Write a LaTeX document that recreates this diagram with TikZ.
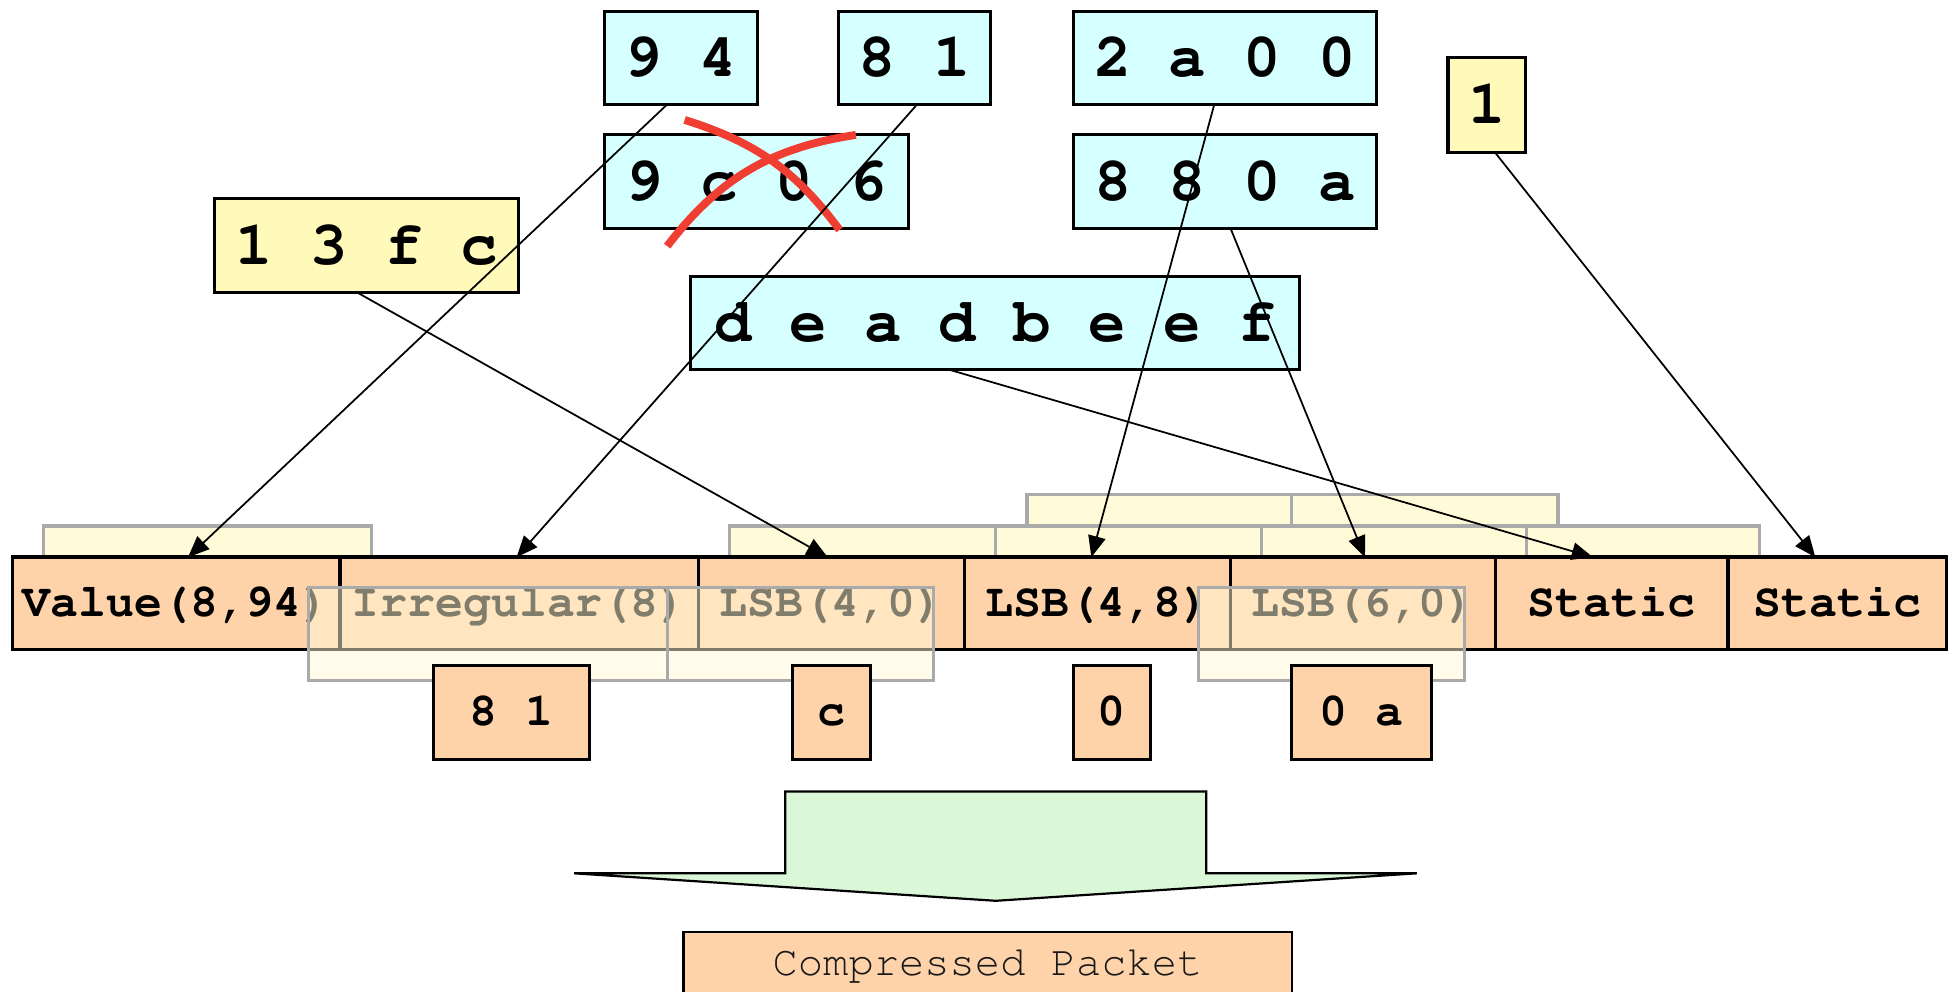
\documentclass[tikz,border=0pt]{standalone}
\usepackage[T1]{fontenc}
\usepackage{courier}
\usetikzlibrary{arrows.meta,positioning}
\definecolor{hellcyan}{RGB}{214,255,255}
\definecolor{sattgelb}{RGB}{255,250,185}
\definecolor{hellgelb}{RGB}{255,250,216}
\definecolor{pfirsich}{RGB}{255,211,170}
\definecolor{rahmengrau}{RGB}{170,170,170}
\definecolor{hellgruen}{RGB}{218,248,216}
\definecolor{kreuzrot}{RGB}{240,62,50}

\begin{document}
\begin{tikzpicture}[
    wort/.style={draw=black, line width=0.7pt, fill=hellcyan, inner sep=0pt, outer sep=0pt,
      minimum height=0.75cm, text height=8.5pt, text depth=0pt,
      font=\ttfamily\bfseries\fontsize{14.2}{17}\selectfont},
    feld/.style={draw=black, line width=0.8pt, fill=pfirsich, inner sep=0pt, outer sep=0pt,
      minimum height=0.74cm, text height=6pt, text depth=0pt,
      font=\ttfamily\bfseries\fontsize{10.6}{13}\selectfont},
    rest/.style={feld, line width=0.7pt, minimum height=0.75cm},
    schicht/.style={draw=rahmengrau, line width=0.7pt, fill=hellgelb},
    deckel/.style={draw=rahmengrau, line width=0.7pt, fill=hellgelb, fill opacity=0.5},
    pfeil/.style={line width=0.4pt, -{Triangle[length=1.7mm,width=1.4mm]}},
    kreuz/.style={draw=kreuzrot, line width=1.8pt}
  ]
    \useasboundingbox (0,0) rectangle (15.68,-7.94);

    % Schichten hinter dem Kontext
    \foreach \xa/\xb in {8.22/10.34, 10.34/12.47}
      \draw[schicht] (\xa,-3.96) rectangle (\xb,-4.70);
    \foreach \xa/\xb in {0.35/2.97, 5.84/7.97, 7.97/10.10, 10.10/12.22, 12.22/14.08}
      \draw[schicht] (\xa,-4.21) rectangle (\xb,-4.95);

    % Felder
    \node[feld, minimum width=2.62cm] (fValue) at (1.41,-4.83) {Value(8,94)};
    \node[feld, minimum width=2.87cm, right=0pt of fValue] (fIrr) {Irregular(8)};
    \node[feld, minimum width=2.13cm, right=0pt of fIrr] (fLsbA) {LSB(4,0)};
    \node[feld, minimum width=2.13cm, right=0pt of fLsbA] (fLsbB) {LSB(4,8)};
    \node[feld, minimum width=2.12cm, right=0pt of fLsbB] (fLsbC) {LSB(6,0)};
    \node[feld, minimum width=1.86cm, right=0pt of fLsbC] (fStatA) {Static};
    \node[feld, minimum width=1.75cm, right=0pt of fStatA] (fStatB) {Static};

    \foreach \xa/\xb in {2.47/5.34, 5.34/7.47, 9.59/11.72}
      \draw[deckel] (\xa,-4.70) rectangle (\xb,-5.45);

    % Reste
    \node[rest, minimum width=1.25cm] (r81) at (4.095,-5.705) {8 1};
    \node[rest, minimum width=0.63cm] (rc) at (6.655,-5.705) {c};
    \node[rest, minimum width=0.62cm] (r0) at (8.90,-5.705) {0};
    \node[rest, minimum width=1.12cm] (r0a) at (10.90,-5.705) {0 a};

    % Werte oben
    \node[wort, minimum width=1.22cm] (v94) at (5.45,-0.465) {9 4};
    \node[wort, minimum width=1.22cm] (v81) at (7.32,-0.465) {8 1};
    \node[wort, minimum width=2.43cm] (v2a00) at (9.805,-0.465) {2 a 0 0};
    \node[wort, minimum width=0.62cm, minimum height=0.76cm, fill=sattgelb] (v1) at (11.90,-0.84) {1};
    \node[wort, minimum width=2.43cm, below=0.24cm of v94.south west, anchor=north west] (v9c06) {9 c 0 6};
    \node[wort, minimum width=2.43cm, below=0.24cm of v2a00] (v880a) {8 8 0 a};
    \node[wort, minimum width=2.43cm, fill=sattgelb] (v13fc) at (2.935,-1.965) {1 3 f c};
    \node[wort, minimum width=4.87cm] (vdead) at (7.965,-2.585) {d e a d b e e f};

    \draw[kreuz] (5.48,-0.96) to[bend left=18] (6.72,-1.84);
    \draw[kreuz] (5.34,-1.97) to[bend left=22] (6.85,-1.08);

    \draw[pfeil] ([xshift=-1.14mm]v94.south) -- ([xshift=0.95mm]fValue.north);
    \draw[pfeil] ([xshift=0.17mm]v81.south) -- ([xshift=-0.2mm]fIrr.north);
    \draw[pfeil] ([xshift=-0.78mm]v13fc.south) -- ([xshift=-0.3mm]fLsbA.north);
    \draw[pfeil] ([xshift=-0.87mm]v2a00.south) -- ([xshift=-0.5mm]fLsbB.north);
    \draw[pfeil] ([xshift=0.45mm]v880a.south) -- ([xshift=0.15mm]fLsbC.north);
    \draw[pfeil] ([xshift=-3.65mm]vdead.south) -- ([xshift=-1.5mm]fStatA.north);
    \draw[pfeil] ([xshift=0.66mm]v1.south) -- ([xshift=-1.75mm]fStatB.north);

    % Blockpfeil und Ergebnis
    \draw[fill=hellgruen, line width=0.5pt] (6.285,-6.335) -- (9.655,-6.335) -- (9.655,-6.99)
      -- (11.34,-6.99) -- (7.97,-7.21) -- (4.595,-6.99) -- (6.285,-6.99) -- cycle;
    \node[feld, font=\ttfamily\fontsize{9.6}{12}\selectfont, text=black!90, line width=0.5pt,
      minimum width=4.87cm, text height=3.47mm, text depth=4.03mm, anchor=north]
      (paket) at (7.905,-7.457) {Compressed Packet};

\end{tikzpicture}
\end{document}
